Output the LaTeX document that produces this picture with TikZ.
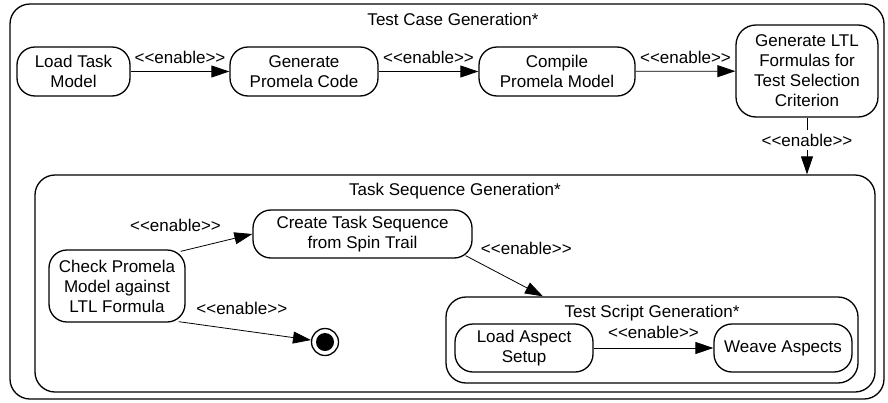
\documentclass[tikz,border=0pt]{standalone}
\usepackage{fontspec}
\setmainfont{Liberation Sans}
\usetikzlibrary{arrows.meta}
\newcommand{\enab}{<\kern0pt<enable>\kern0pt>}
\begin{document}
\begin{tikzpicture}[x=1pt,y=-1pt,every node/.style={font=\fontsize{17}{20}\selectfont},
  act/.style={draw,line width=1.3pt,rounded corners=18pt,align=center,inner sep=0pt,minimum height=49pt},
  frame/.style={draw,line width=1.3pt,rounded corners=20pt,inner sep=0pt},
  lbl/.style={inner sep=0pt,anchor=base},
  flow/.style={-{Triangle[length=18pt,width=12pt]},line width=0.8pt}]
\useasboundingbox (0,0) rectangle (888,402);
\node[frame,minimum width=874pt,minimum height=395pt] (tcg) at (447,201.5) {};
\node[frame,minimum width=840pt,minimum height=217pt] (tsq) at (455,283.5) {};
\node[frame,minimum width=412pt,minimum height=86pt] (tsc) at (652,340) {};
\node[lbl] (tcgtitle) at (453,25) {Test Case Generation*};
\node[lbl] (tsqtitle) at (455,195) {Task Sequence Generation*};
\node[lbl] (tsctitle) at (652,317) {Test Script Generation*};
\node[act,minimum width=113pt] (load) at (73.5,71.5) {Load Task\\Model};
\node[act,minimum width=148pt] (gen) at (304,71.5) {Generate\\Promela Code};
\node[act,minimum width=156pt] (cmp) at (557,71.5) {Compile\\Promela Model};
\node[act,minimum width=142pt,minimum height=92pt,rounded corners=20pt] (ltl) at (807,71) {Generate LTL\\Formulas for\\Test Selection\\Criterion};
\node[act,minimum width=136pt,minimum height=72pt] (chk) at (117,286) {Check Promela\\Model against\\LTL Formula};
\node[act,minimum width=219pt,minimum height=48pt] (cts) at (362.5,234) {Create Task Sequence\\from Spin Trail};
\node[act,minimum width=138pt,minimum height=48pt] (las) at (524,348) {Load Aspect\\Setup};
\node[act,minimum width=138pt,minimum height=48pt] (wva) at (783,348) {Weave Aspects};
\node[draw,circle,line width=1.3pt,minimum size=27pt,inner sep=0pt] (fin) at (325,342) {};
\node[circle,fill=black,minimum size=18pt,inner sep=0pt] (fincore) at (fin) {};
\foreach \a/\b in {load/gen,gen/cmp,cmp/ltl} \draw[flow] (\a) -- node[lbl,midway,yshift=8pt] {\enab} (\b);
\draw[flow] (ltl) -- node[midway,fill=white,inner sep=4pt,yshift=6pt] {\enab} (ltl |- tsq.north);
\draw[flow] ([shift={(-5,2)}]chk.north east) -- node[lbl,midway,xshift=-41pt,yshift=11pt] {\enab} (cts.west);
\draw[flow] ([shift={(-7,-1)}]chk.south east) -- node[lbl,midway,xshift=-3pt,yshift=16pt] {\enab} (fin);
\draw[flow] ([shift={(-7,-3)}]cts.south east) -- node[lbl,midway,xshift=22pt,yshift=22pt] {\enab} ([xshift=-109pt]tsc.north);
\draw[flow] (las) -- node[lbl,midway,yshift=10pt] {\enab} (wva);
\end{tikzpicture}
\end{document}
